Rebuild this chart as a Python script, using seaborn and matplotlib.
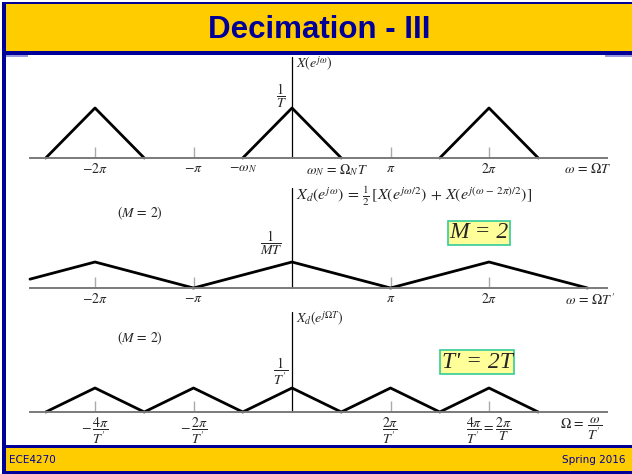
import matplotlib
matplotlib.use("Agg")
import matplotlib.pyplot as plt
import seaborn as sns
from matplotlib.patches import Rectangle

sns.set_theme(style="white")
plt.rcParams["font.family"] = ["Liberation Serif", "DejaVu Serif"]
plt.rcParams["mathtext.fontset"] = "stix"

# ---- spectra (frequency in units of pi, amplitude in units of 1/T) ----
# original spectrum X(e^{jw}): triangles of half-width w_N = pi/2 around 2*pi*k
orig_w = [-2.5, -2.0, -1.5, -0.5, 0.0, 0.5, 1.5, 2.0, 2.5]
orig_amp = [0, 1, 0, 0, 1, 0, 0, 1, 0]
orig_copy = [0, 0, 0, 1, 1, 1, 2, 2, 2]

# decimated spectrum X_d(e^{jw}), M = 2: stretched triangles, peak 1/(MT)
dec_w = [-2.66, -2.0, -1.0, 0.0, 1.0, 2.0, 3.0]
dec_amp = [0.17, 0.5, 0.0, 0.5, 0.0, 0.5, 0.0]

# same spectrum against analog frequency Omega, peak 1/T'
ana_w = [-2.5, -2.0, -1.5, -1.0, -0.5, 0.0, 0.5, 1.0, 1.5, 2.0, 2.5]
ana_amp = [0, 0.5, 0, 0.5, 0, 0.5, 0, 0.5, 0, 0.5, 0]

tick_pos = [-2, -1, 1, 2]
labels_top = [r"$-2\pi$", r"$-\pi$", r"$\pi$", r"$2\pi$"]
extra_top = [r"$-\omega_N$", r"$\omega_N\, =\, \Omega_N T$",
             r"$\omega\, =\, \Omega T$"]
labels_mid = [r"$-2\pi$", r"$-\pi$", r"$\pi$", r"$2\pi$"]
extra_mid = [r"$\omega\, =\, \Omega T\,'$"]
labels_bot = [r"$-\,\dfrac{4\pi}{T\,'}$", r"$-\,\dfrac{2\pi}{T\,'}$",
              r"$\dfrac{2\pi}{T\,'}$",
              r"$\dfrac{4\pi}{T\,'} = \dfrac{2\pi}{T}$"]
extra_bot = [r"$\Omega\, =\, \dfrac{\omega}{T\,'}$"]

title = "Decimation - III"
footer_left = "ECE4270"
footer_right = "Spring 2016"

W, H = 632, 474
NAVY = "#000099"
GOLD = "#FFCC00"

fig = plt.figure(figsize=(W / 100, H / 100), dpi=100)
fig.patch.set_facecolor("white")


def fx(px):
    return px / W


def fy(py):
    return 1 - py / H


def rect(x0, y0, x1, y1, color, z=0):
    fig.add_artist(Rectangle((fx(x0), fy(y1)), (x1 - x0) / W, (y1 - y0) / H,
                             transform=fig.transFigure, facecolor=color,
                             edgecolor="none", zorder=z))


# slide frame: header band, footer band, left rule
rect(3, 2, 632, 52, GOLD)
rect(3, 2, 632, 4, NAVY)
rect(3, 51, 632, 55, NAVY)
rect(6, 55, 28, 57, "#9999dd")
rect(605, 55, 632, 57, "#9999dd")
rect(3, 445, 632, 448, NAVY)
rect(3, 448, 632, 471, GOLD)
rect(3, 471, 632, 474, NAVY)
rect(2, 2, 6, 474, NAVY)

fig.text(fx(319), fy(30), title, ha="center", va="center", color=NAVY,
         fontsize=22.5, fontweight="bold", family="Liberation Sans")
fig.text(fx(9), fy(460), footer_left, ha="left", va="center", color=NAVY,
         fontsize=7.5, family="DejaVu Sans")
fig.text(fx(626), fy(460), footer_right, ha="right", va="center", color=NAVY,
         fontsize=7.5, family="DejaVu Sans")

PX_PER_PI = 98.5
X0 = 292


def panel(top, bottom, base, unit, axis_top):
    ax = fig.add_axes([0, fy(bottom), 1, (bottom - top) / H])
    ax.set_xlim(-X0 / PX_PER_PI, (W - X0) / PX_PER_PI)
    ax.set_ylim(-(bottom - base) / unit, (base - top) / unit)
    ax.patch.set_alpha(0)
    for s in ("top", "right", "left"):
        ax.spines[s].set_visible(False)
    sp = ax.spines["bottom"]
    sp.set_position(("data", 0))
    sp.set_bounds(-2.66, 3.2)
    sp.set_color("#7a7a7a")
    sp.set_linewidth(1.4)
    ax.set_yticks([])
    ax.tick_params(axis="x", which="major", direction="in", length=8,
                   width=1, color="#aaaaaa", pad=3, labelsize=10,
                   bottom=True)
    ax.tick_params(axis="x", which="minor", length=0, pad=3,
                   labelsize=10, bottom=True)
    ax.plot([0, 0], [0, (base - axis_top) / unit], color="black", lw=0.9)
    return ax


line_kw = dict(color="black", linewidth=2.0, estimator=None, sort=False,
               legend=False)

# top: original spectrum
ax1 = panel(55, 185, 158, 50, 57)
sns.lineplot(x=orig_w, y=orig_amp, units=orig_copy, ax=ax1, **line_kw)
ax1.set_xticks(tick_pos, labels_top)
ax1.set_xticks([-0.5, 0.46, 3.0], extra_top, minor=True)
ax1.set_xlabel("")
fig.text(fx(296), fy(64), r"$X(e^{j\omega})$", ha="left", va="center",
         fontsize=10)
fig.text(fx(281), fy(96), r"$\dfrac{1}{T}$", ha="center", va="center",
         fontsize=10)

# middle: decimated spectrum vs. w
ax2 = panel(186, 315, 288, 52, 188)
sns.lineplot(x=dec_w, y=dec_amp, ax=ax2, **line_kw)
ax2.set_xticks(tick_pos, labels_mid)
ax2.set_xticks([3.03], extra_mid, minor=True)
ax2.set_xlabel("")
fig.text(fx(296), fy(196),
         r"$X_d(e^{j\omega})\, =\, \frac{1}{2}\,[X(e^{j\omega/2})\, +\, X(e^{j(\omega\,-\,2\pi)/2})]$",
         ha="left", va="center", fontsize=11.5)
fig.text(fx(140), fy(213), r"$(M\, =\, 2)$", ha="center", va="center",
         fontsize=10)
fig.text(fx(271), fy(243), r"$\dfrac{1}{MT}$", ha="center", va="center",
         fontsize=10)
fig.text(fx(479), fy(233), "M = 2", ha="center", va="center",
         fontsize=17, fontstyle="italic",
         bbox=dict(boxstyle="square,pad=0.06", fc="#FFFF99", ec="#33CC99",
                   lw=1.2))

# bottom: decimated spectrum vs. analog frequency
ax3 = panel(310, 446, 412, 48, 312)
sns.lineplot(x=ana_w, y=ana_amp, ax=ax3, **line_kw)
ax3.set_xticks(tick_pos, labels_bot)
ax3.set_xticks([2.93], extra_bot, minor=True)
ax3.set_xlabel("")
fig.text(fx(296), fy(319), r"$X_d(e^{j\Omega T})$", ha="left",
         va="center", fontsize=10)
fig.text(fx(140), fy(338), r"$(M\, =\, 2)$", ha="center", va="center",
         fontsize=10)
fig.text(fx(281), fy(371), r"$\dfrac{1}{T\,'}$", ha="center", va="center",
         fontsize=10)
fig.text(fx(477), fy(362), "T' = 2T", ha="center", va="center",
         fontsize=17, fontstyle="italic",
         bbox=dict(boxstyle="square,pad=0.06", fc="#FFFF99", ec="#33CC99",
                   lw=1.2))

fig.savefig("out.png", dpi=100)
